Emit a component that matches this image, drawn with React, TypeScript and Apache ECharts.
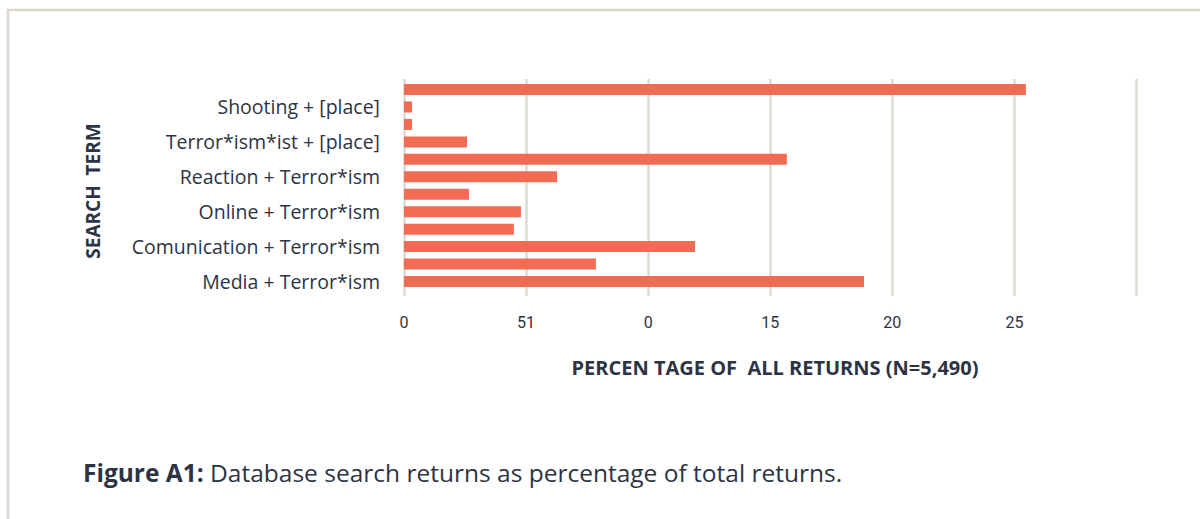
import React, { useEffect, useRef } from "react";
import * as echarts from "echarts";

// Categories from bottom to top (only every other row is labelled in the original)
const categories: string[] = [
  "Media + Terror*ism",
  "",
  "Comunication + Terror*ism",
  "",
  "Online + Terror*ism",
  "",
  "Reaction + Terror*ism",
  "",
  "Terror*ism*ist + [place]",
  "",
  "Shooting + [place]",
  "",
];

// Percentage of all returns, bottom to top
const values: number[] = [18.84, 7.86, 11.92, 4.5, 4.79, 2.66, 6.27, 15.68, 2.58, 0.33, 0.33, 25.47];

// Tick labels exactly as printed in the original (0..30 step 5)
const xTickLabels: string[] = ["0", "51", "0", "15", "20", "25", ""];

const yAxisTitle = "SEARCH  TERM";
const xAxisTitle = "PERCEN TAGE OF  ALL RETURNS (N=5,490)";
const captionBold = "Figure A1:";
const captionText = " Database search returns as percentage of total returns.";

const TEXT = "#2c3444";
const GRID = "#dedad2";
const BAR = "#f26b54";
const FONT = "Roboto, 'Noto Sans', sans-serif";
const WIDE = "'Open Sans', 'Noto Sans', sans-serif";

export default function App() {
  const ref = useRef<HTMLDivElement>(null);
  useEffect(() => {
    if (!ref.current) return;
    const chart = echarts.init(ref.current, undefined, { renderer: "svg" });
    chart.setOption({
      animation: false,
      backgroundColor: "#ffffff",
      grid: [
        { left: 404, right: 63.5, top: 79, height: 217, containLabel: false },
        { left: 404, right: 63.5, top: 80.8, height: 209.4, containLabel: false },
      ],
      xAxis: [
        {
          type: "value",
          gridIndex: 0,
          min: 0,
          max: 30,
          interval: 5,
          axisLine: { show: false },
          axisTick: { show: false },
          splitLine: { show: true, lineStyle: { color: GRID, width: 2.5 } },
          axisLabel: {
            margin: 18,
            fontSize: 16,
            color: TEXT,
            fontFamily: FONT,
            formatter: (v: number) => xTickLabels[Math.round(v / 5)] ?? "",
          },
        },
        {
          type: "value",
          gridIndex: 1,
          min: 0,
          max: 30,
          interval: 5,
          show: false,
        },
      ],
      yAxis: [
        { type: "category", gridIndex: 0, show: false, data: categories },
        {
          type: "category",
          gridIndex: 1,
          data: categories,
          axisLine: { show: false },
          axisTick: { show: false },
          splitLine: { show: false },
          axisLabel: {
            interval: 0,
            margin: 24,
            fontSize: 19.5,
            color: TEXT,
            fontFamily: WIDE,
            padding: [9, 0, 0, 0],
          },
        },
      ],
      series: [
        {
          type: "bar",
          xAxisIndex: 1,
          yAxisIndex: 1,
          data: values,
          barWidth: 11,
          itemStyle: { color: BAR },
        },
      ],
      graphic: [
        {
          type: "polyline",
          shape: { points: [[8, 519], [8, 10], [1200, 10]] },
          style: { stroke: "#dcd8d0", lineWidth: 2.5, fill: null },
        },
        {
          type: "text",
          x: 93,
          y: 191,
          rotation: Math.PI / 2,
          style: {
            text: yAxisTitle,
            fontSize: 19,
            fontWeight: "bold",
            fill: TEXT,
            fontFamily: WIDE,
            textAlign: "center",
            textVerticalAlign: "middle",
          },
        },
        {
          type: "text",
          x: 775,
          y: 367,
          style: {
            text: xAxisTitle,
            fontSize: 20,
            fontWeight: "bold",
            fill: TEXT,
            fontFamily: WIDE,
            textAlign: "center",
            textVerticalAlign: "middle",
          },
        },
        {
          type: "text",
          x: 83,
          y: 472,
          style: {
            text: "{b|" + captionBold + "}{r|" + captionText + "}",
            textVerticalAlign: "middle",
            rich: {
              b: { fontSize: 24.5, fontWeight: "bold", fill: TEXT, fontFamily: WIDE },
              r: { fontSize: 24.5, fill: TEXT, fontFamily: WIDE },
            },
          },
        },
      ],
    });
    return () => chart.dispose();
  }, []);
  return (
    <div
      ref={ref}
      style={{ position: "fixed", left: 0, top: 0, width: 1200, height: 519 }}
    />
  );
}
